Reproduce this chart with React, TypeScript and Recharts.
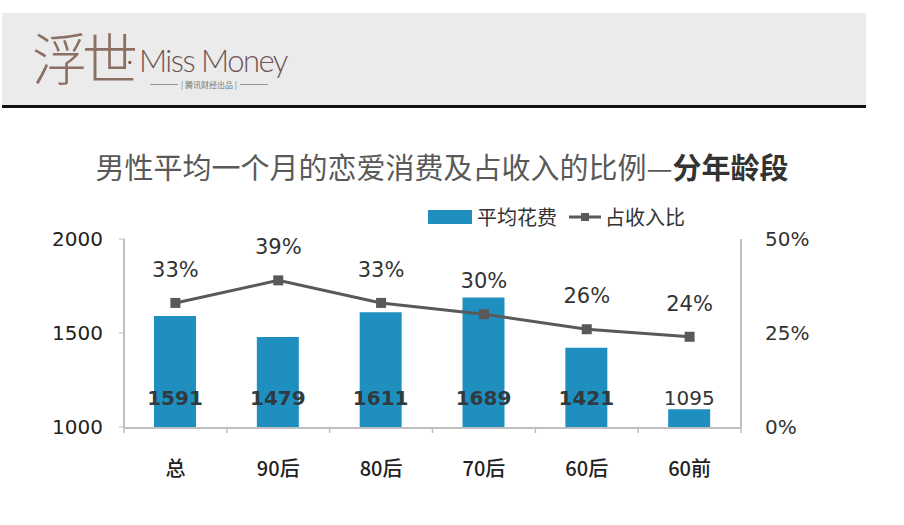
import React from "react";
import {
  ComposedChart,
  Bar,
  Line,
  XAxis,
  YAxis,
  Legend,
  LabelList,
} from "recharts";

const categories = ["总", "90后", "80后", "70后", "60后", "60前"];
const avgSpend = [1591, 1479, 1611, 1689, 1421, 1095];
const incomeShare = [33, 39, 33, 30, 26, 24];
const spendTicks = [1000, 1500, 2000];
const shareTicks = [0, 25, 50];

// categories sit at the middle of each band on a 0..n number axis
const centerTicks = categories.map((_, i) => i + 0.5);
const boundTicks = [...categories.map((_, i) => i), categories.length];

const data = categories.map((name, i) => ({
  name,
  pos: i + 0.5,
  spend: avgSpend[i],
  share: incomeShare[i],
}));

const BLUE = "#1f8fc0";
const LINE = "#595959";
const AXIS = "#bfbfbf";
const NUM_FONT = "'DejaVu Sans', Verdana, sans-serif";
const CJK_FONT = "'Noto Sans CJK SC', 'Noto Sans', sans-serif";

function LegendContent() {
  return (
    <div
      style={{
        display: "flex",
        alignItems: "center",
        fontFamily: CJK_FONT,
        fontSize: 20,
        color: "#333",
      }}
    >
      <span style={{ width: 44, height: 14, background: BLUE, marginRight: 5 }} />
      <span style={{ marginRight: 12 }}>平均花费</span>
      <svg width={32} height={14} style={{ marginRight: 4 }}>
        <line x1={0} y1={7} x2={32} y2={7} stroke={LINE} strokeWidth={3} />
        <rect x={12} y={3} width={8} height={8} fill={LINE} />
      </svg>
      <span>占收入比</span>
    </div>
  );
}

function CategoryTick(props: any) {
  const { x, y, payload } = props;
  const idx = Math.round(payload.value - 0.5);
  return (
    <text
      x={x}
      y={y + 40}
      textAnchor="middle"
      fontFamily={CJK_FONT}
      fontSize={20}
      fontWeight={500}
      fill="#222"
    >
      {categories[idx]}
    </text>
  );
}

function EmptyTick() {
  return <g />;
}

function SpendLabel(props: any) {
  const { x, y, width, height, value, index } = props;
  const bottom = y + height;
  return (
    <text
      x={x + width / 2}
      y={bottom - 22}
      textAnchor="middle"
      fontFamily={NUM_FONT}
      fontSize={20}
      fontWeight={index === 5 ? 400 : 700}
      fill={index === 5 ? "#333" : "#2f3b40"}
    >
      {value}
    </text>
  );
}

export default function App() {
  return (
    <div
      style={{
        position: "absolute",
        left: 0,
        top: 0,
        width: 904,
        height: 525,
        background: "#fff",
        overflow: "hidden",
      }}
    >
      {/* header banner */}
      <div
        style={{
          position: "absolute",
          left: 2,
          top: 13,
          width: 864,
          height: 92,
          background: "#ebebeb",
          borderBottom: "3px solid #111",
        }}
      >
        <div
          style={{
            position: "absolute",
            left: 30,
            top: 8,
            fontFamily: CJK_FONT,
            fontWeight: 200,
            fontSize: 56,
            lineHeight: "70px",
            color: "#8c6f63",
            letterSpacing: -6,
          }}
        >
          浮世
        </div>
        <div
          style={{
            position: "absolute",
            left: 124,
            top: 27,
            fontFamily: "Lato, 'Open Sans', sans-serif",
            fontWeight: 300,
            fontSize: 31,
            lineHeight: "40px",
            color: "#6e5555",
            letterSpacing: -1.5,
          }}
        >
          · Miss Money
        </div>
        <div
          style={{
            position: "absolute",
            left: 148,
            top: 66,
            fontFamily: CJK_FONT,
            fontSize: 8,
            color: "#777",
            display: "flex",
            alignItems: "center",
          }}
        >
          <span style={{ width: 28, height: 1, background: "#999", marginRight: 3 }} />
          | 腾讯财经出品 |
          <span style={{ width: 28, height: 1, background: "#999", marginLeft: 3 }} />
        </div>
      </div>

      {/* chart title */}
      <div
        style={{
          position: "absolute",
          left: 0,
          width: 884,
          top: 146,
          textAlign: "center",
          fontFamily: CJK_FONT,
          fontSize: 29,
          lineHeight: "40px",
          color: "#595959",
        }}
      >
        男性平均一个月的恋爱消费及占收入的比例—
        <span style={{ fontWeight: 700, color: "#333" }}>分年龄段</span>
      </div>

      <ComposedChart
        width={904}
        height={525}
        data={data}
        margin={{ top: 210, right: 83, left: 60, bottom: 49 }}
        style={{ position: "absolute", left: 0, top: 0 }}
      >
        <XAxis
          xAxisId="bounds"
          type="number"
          dataKey="pos"
          domain={[0, categories.length]}
          ticks={boundTicks}
          tick={<EmptyTick />}
          axisLine={false}
          tickLine={{ stroke: AXIS, strokeWidth: 1.5 }}
          tickSize={6}
          height={1}
          interval={0}
        />
        <XAxis
          xAxisId="cat"
          type="number"
          dataKey="pos"
          domain={[0, categories.length]}
          ticks={centerTicks}
          tick={<CategoryTick />}
          tickLine={false}
          axisLine={{ stroke: AXIS, strokeWidth: 2 }}
          height={48}
          interval={0}
        />
        <YAxis
          yAxisId="left"
          domain={[1000, 2000]}
          ticks={spendTicks}
          width={64}
          axisLine={{ stroke: AXIS, strokeWidth: 2 }}
          tickLine={{ stroke: AXIS }}
          tickSize={5}
          tick={{ fontFamily: NUM_FONT, fontSize: 20, fill: "#222" }}
          tickMargin={16}
        />
        <YAxis
          yAxisId="right"
          orientation="right"
          domain={[0, 50]}
          ticks={shareTicks}
          width={80}
          axisLine={{ stroke: AXIS, strokeWidth: 2 }}
          tickLine={false}
          tick={{ fontFamily: NUM_FONT, fontSize: 20, fill: "#333" }}
          tickFormatter={(v: number) => `${v}%`}
          tickMargin={18}
        />
        <Legend
          verticalAlign="top"
          content={<LegendContent />}
          wrapperStyle={{ top: 202, left: 428, width: "auto" }}
        />
        <Bar
          xAxisId="cat"
          yAxisId="left"
          dataKey="spend"
          name="平均花费"
          fill={BLUE}
          barSize={42}
          isAnimationActive={false}
        >
          <LabelList dataKey="spend" content={<SpendLabel />} />
        </Bar>
        <Line
          xAxisId="bounds"
          yAxisId="right"
          dataKey="share"
          name="占收入比"
          stroke={LINE}
          strokeWidth={3}
          dot={(p: any) => (
            <rect
              key={`d${p.index}`}
              x={p.cx - 5}
              y={p.cy - 5}
              width={10}
              height={10}
              fill={LINE}
            />
          )}
          activeDot={false}
          isAnimationActive={false}
        >
          <LabelList
            dataKey="share"
            position="top"
            offset={26}
            formatter={(v: any) => `${v}%`}
            style={{ fontFamily: NUM_FONT, fontSize: 21, fill: "#333" }}
          />
        </Line>
      </ComposedChart>
    </div>
  );
}
